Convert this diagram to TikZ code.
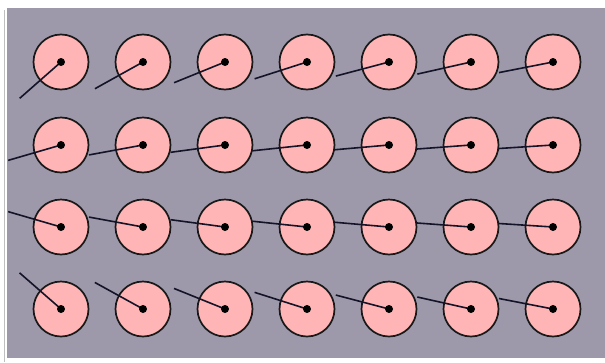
\documentclass[tikz,border=0pt]{standalone}
\usepackage{tikz}
\usetikzlibrary{calc}
\definecolor{fondo}{HTML}{9D98AA}
\definecolor{rosa}{HTML}{FFB5B5}
\definecolor{tinta}{HTML}{141428}
\begin{document}
\begin{tikzpicture}[x=1pt,y=-1pt,
  bola/.style={circle,draw=black!90,line width=1.7pt,fill=rosa,minimum size=55pt,inner sep=0pt},
  punto/.style={circle,fill=black,minimum size=8pt,inner sep=0pt},
  aguja/.style={line width=1.6pt,draw=tinta}]
\useasboundingbox (0,0) rectangle (605,362);
\fill[white] (0,0) rectangle (605,362);
\fill[fondo] (7,8) rectangle (605,358);
\draw[black!25,line width=1pt] (4.5,10) -- (4.5,362);
\coordinate (fuente) at (-80,186);
\foreach \f/\y in {1/62,2/145,3/227,4/309}{
  \foreach \c in {1,...,7}{
    \node[bola] (b\f\c) at ({61+82*(\c-1)},\y) {};
    \draw[aguja] (b\f\c.center) -- ($(b\f\c.center)!55pt!(fuente)$);
    \node[punto] (p\f\c) at (b\f\c.center) {};
  }
}
\end{tikzpicture}
\end{document}
